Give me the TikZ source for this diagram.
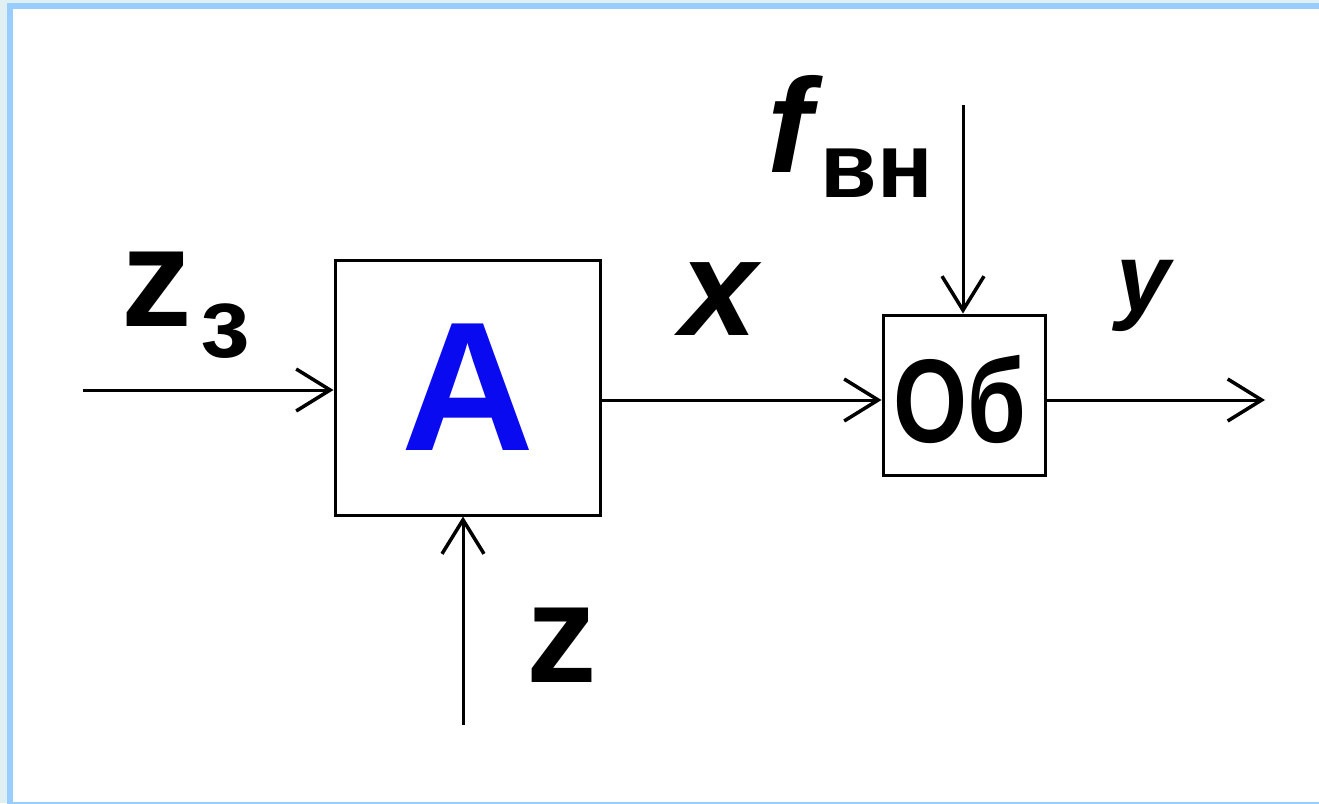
\documentclass[tikz,border=0pt]{standalone}
\usepackage{fontspec}
\setmainfont{Liberation Sans}
\usetikzlibrary{arrows.meta}
\definecolor{outerbg}{HTML}{E0EFF1}
\definecolor{frameblue}{HTML}{99CCFF}
\definecolor{ablue}{HTML}{0A0AF0}
\tikzset{
  blk/.style={draw=black, line width=3pt, fill=white, inner sep=0pt},
  sig/.style={line width=3pt, -{Straight Barb[length=34pt,width=42pt,line width=3.5pt]}},
  lbl/.style={anchor=base, inner sep=0pt, font=\bfseries},
}
\begin{document}
\begin{tikzpicture}[x=1pt,y=-1pt]
\useasboundingbox (0,0) rectangle (1319,803);
\fill[outerbg] (0,0) rectangle (1319,803);
\begin{scope}
\clip (0,0) rectangle (1319,803);
\draw[frameblue, line width=6pt, fill=white] (10,6) rectangle (1340,805);
\end{scope}

% blocks
\node[blk, minimum width=265pt, minimum height=255pt, font=\fontsize{184}{184}\selectfont\bfseries, text=ablue] (A) at (467.5,387.5) {A};
\node[blk, minimum width=162pt, minimum height=160pt] (Ob) at (964,395) {};
\node[anchor=base, inner sep=0pt, font=\fontsize{119}{119}\selectfont\bfseries] (obtxt) at (960,442) {\scalebox{0.8}[1]{Об}};

% connector end points
\coordinate (zzin) at (83,390);
\coordinate (zin) at (463,725);
\coordinate (fin) at (963,105);
\coordinate (yout) at (1265,400);
\coordinate (xrow) at (0,400);

\draw[sig] (zzin) -- (A.west |- zzin);
\draw[sig] (zin) -- (zin |- A.south);
\draw[sig] (A.east |- xrow) -- (Ob.west |- xrow);
\draw[sig] (fin) -- (fin |- Ob.north);
\draw[sig] (Ob.east |- xrow) -- (yout);

% labels
\node[lbl, font=\fontsize{141}{141}\selectfont\bfseries] (lz3) at (157,326) {z};
\node[lbl, font=\fontsize{100}{100}\selectfont\bfseries] (lz3s) at (225,357) {з};
\node[lbl, font=\fontsize{138}{138}\selectfont\bfseries\itshape] (lx) at (719,335) {x};
\node[lbl, font=\fontsize{134}{134}\selectfont\bfseries\itshape] (lf) at (790,172) {f};
\node[lbl, font=\fontsize{92}{92}\selectfont\bfseries] (lvn) at (877,197) {вн};
\node[lbl, font=\fontsize{97}{97}\selectfont\bfseries\itshape] (ly) at (1143,311) {y};
\node[lbl, font=\fontsize{141}{141}\selectfont\bfseries] (lz) at (562,682) {z};
\end{tikzpicture}
\end{document}
